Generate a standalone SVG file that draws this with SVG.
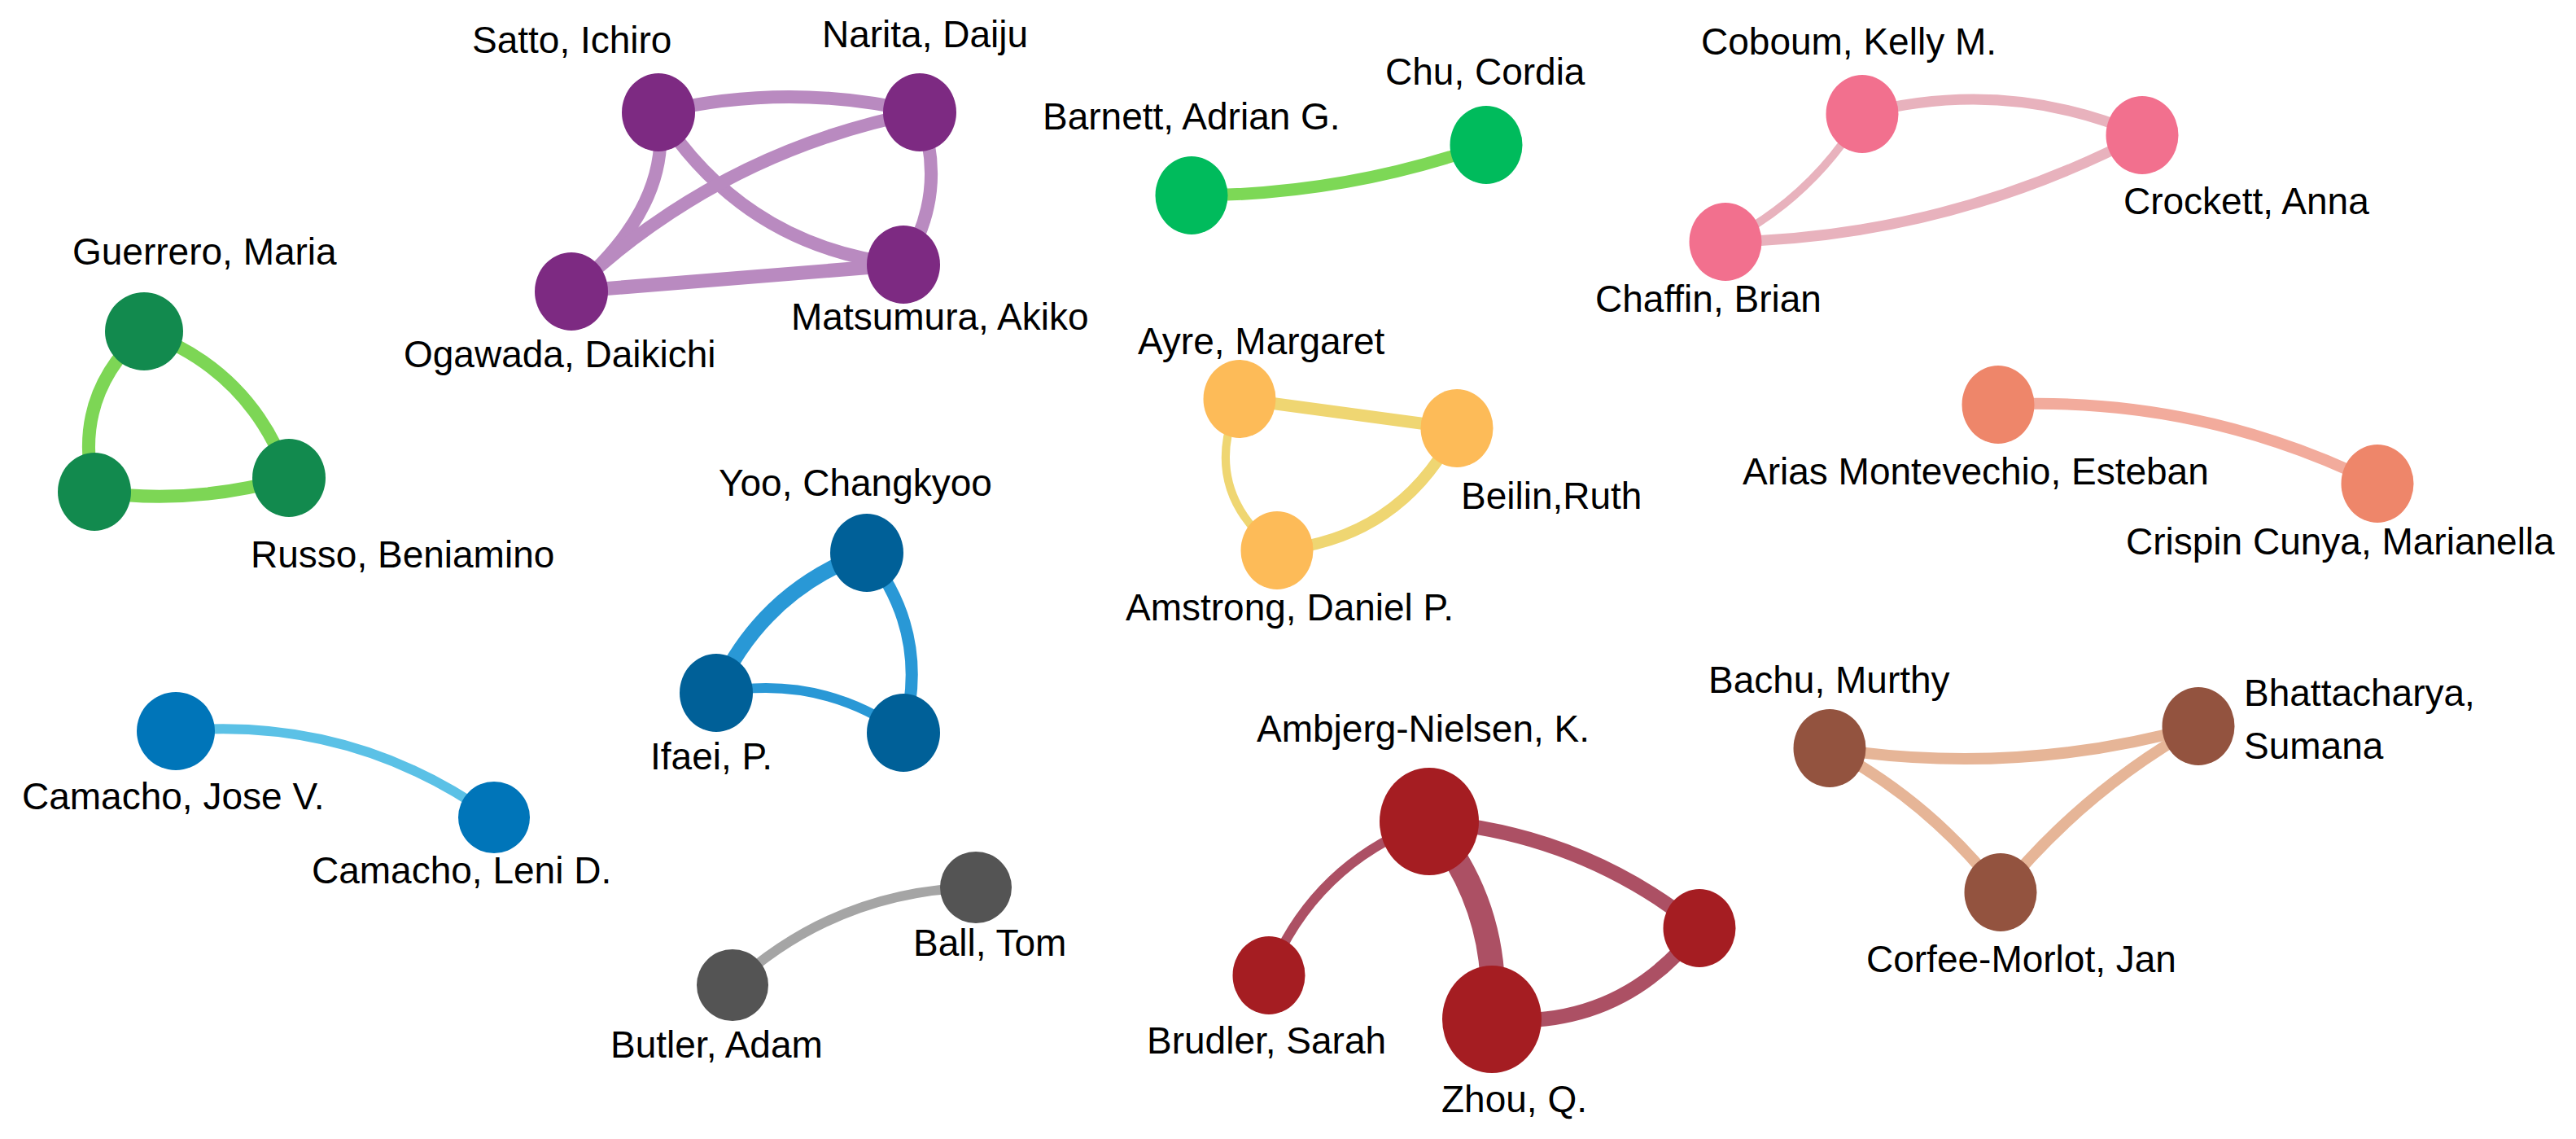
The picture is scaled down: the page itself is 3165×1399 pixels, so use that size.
<svg xmlns="http://www.w3.org/2000/svg" width="3165" height="1399" viewBox="0 0 3165 1399">
<style>
text{font-family:"Liberation Sans",Arial,sans-serif;font-size:46px;fill:#000}
.e{fill:none;stroke-linecap:butt}
.pu{stroke:#b98ac0}.gr{stroke:#7dd655}.gc{stroke:#7dd856}.pk{stroke:#e8b2bd}.or{stroke:#efd672}.sa{stroke:#f2ab9c}.bl{stroke:#2998d6}.cb{stroke:#5bc1e6}.gy{stroke:#a5a5a5}.rd{stroke:#ac5064}.br{stroke:#e6b597}
.npu{fill:#7d2a82}.ngr{fill:#128a4e}.ngc{fill:#00bb5c}.npk{fill:#f2708e}.nor{fill:#fdbb58}.nsa{fill:#ee866a}.nbl{fill:#006098}.ncb{fill:#0075b9}.ngy{fill:#545454}.nrd{fill:#a51d22}.nbr{fill:#93533f}
</style>
<rect width="3165" height="1399" fill="#fff"/>
<g id="connectors">
<path class="e pu" stroke-width="16" d="M809,138 Q970,100 1130,138"/>
<path class="e pu" stroke-width="16" d="M809,138 Q828,252 702,358"/>
<path class="e pu" stroke-width="16" d="M809,138 Q915,304 1110,325"/>
<path class="e pu" stroke-width="16" d="M1130,138 Q884,186 702,358"/>
<path class="e pu" stroke-width="16" d="M1130,138 Q1166,236 1110,325"/>
<path class="e pu" stroke-width="17" d="M702,358 L1110,325"/>
<path class="e gr" stroke-width="16" d="M177,407 Q309,455 355,587"/>
<path class="e gr" stroke-width="16" d="M177,407 Q87,487 116,604"/>
<path class="e gr" stroke-width="16" d="M116,604 Q236,621 355,587"/>
<path class="e gc" stroke-width="15" d="M1464,240 Q1651,240 1826,178"/>
<path class="e pk" stroke-width="13" d="M2288,140 Q2465,94 2632,166"/>
<path class="e pk" stroke-width="10" d="M2288,140 Q2226,243 2120,297"/>
<path class="e pk" stroke-width="13" d="M2120,297 Q2391,292 2632,166"/>
<path class="e or" stroke-width="15" d="M1523,490 L1790,526"/>
<path class="e or" stroke-width="10" d="M1523,490 Q1473,601 1569,676"/>
<path class="e or" stroke-width="14" d="M1790,526 Q1721,662 1569,676"/>
<path class="e sa" stroke-width="14" d="M2455,497 Q2701,485 2921,594"/>
<path class="e bl" stroke-width="19" d="M1065,679 Q936,726 880,851"/>
<path class="e bl" stroke-width="15" d="M1065,679 Q1144,778 1110,900"/>
<path class="e bl" stroke-width="12" d="M880,851 Q1006,827 1110,900"/>
<path class="e cb" stroke-width="12" d="M216,898 Q431,878 607,1004"/>
<path class="e gy" stroke-width="12" d="M900,1210 Q1027,1094 1199,1090"/>
<path class="e rd" stroke-width="12" d="M1756,1009 Q1615,1060 1559,1198"/>
<path class="e rd" stroke-width="30" d="M1756,1009 Q1844,1115 1833,1252"/>
<path class="e rd" stroke-width="18" d="M1756,1009 Q1942,1023 2088,1140"/>
<path class="e rd" stroke-width="18" d="M1833,1252 Q1991,1266 2088,1140"/>
<path class="e br" stroke-width="14" d="M2248,919 Q2477,955 2701,892"/>
<path class="e br" stroke-width="14" d="M2248,919 Q2372,985 2458,1096"/>
<path class="e br" stroke-width="14" d="M2701,892 Q2560,971 2458,1096"/>
</g>
<g id="satto"><ellipse class="npu" cx="809" cy="138" rx="45" ry="48"/><text x="580" y="65">Satto, Ichiro</text></g>
<g id="narita"><ellipse class="npu" cx="1130" cy="138" rx="45" ry="48"/><text x="1010" y="58">Narita, Daiju</text></g>
<g id="ogawada"><ellipse class="npu" cx="702" cy="358" rx="45" ry="48"/><text x="496" y="451">Ogawada, Daikichi</text></g>
<g id="matsumura"><ellipse class="npu" cx="1110" cy="325" rx="45" ry="48"/><text x="972" y="405">Matsumura, Akiko</text></g>
<g id="guerrero"><ellipse class="ngr" cx="177" cy="407" rx="48" ry="48"/><text x="89" y="325">Guerrero, Maria</text></g>
<g id="green3"><ellipse class="ngr" cx="116" cy="604" rx="45" ry="48"/></g>
<g id="russo"><ellipse class="ngr" cx="355" cy="587" rx="45" ry="48"/><text x="308" y="697">Russo, Beniamino</text></g>
<g id="barnett"><ellipse class="ngc" cx="1464" cy="240" rx="44.5" ry="48"/><text x="1281" y="159">Barnett, Adrian G.</text></g>
<g id="chu"><ellipse class="ngc" cx="1826" cy="178" rx="44.5" ry="48"/><text x="1702" y="104">Chu, Cordia</text></g>
<g id="coboum"><ellipse class="npk" cx="2288" cy="140" rx="44.5" ry="48"/><text x="2090" y="67">Coboum, Kelly M.</text></g>
<g id="crockett"><ellipse class="npk" cx="2632" cy="166" rx="44.5" ry="48"/><text x="2609" y="263">Crockett, Anna</text></g>
<g id="chaffin"><ellipse class="npk" cx="2120" cy="297" rx="44.5" ry="48"/><text x="1960" y="383">Chaffin, Brian</text></g>
<g id="ayre"><ellipse class="nor" cx="1523" cy="490" rx="44.5" ry="48"/><text x="1398" y="435">Ayre, Margaret</text></g>
<g id="beilin"><ellipse class="nor" cx="1790" cy="526" rx="44.5" ry="48"/><text x="1795" y="625">Beilin,Ruth</text></g>
<g id="amstrong"><ellipse class="nor" cx="1569" cy="676" rx="44.5" ry="48"/><text x="1383" y="762">Amstrong, Daniel P.</text></g>
<g id="arias"><ellipse class="nsa" cx="2455" cy="497" rx="44.5" ry="48"/><text x="2141" y="595">Arias Montevechio, Esteban</text></g>
<g id="crispin"><ellipse class="nsa" cx="2921" cy="594" rx="44.5" ry="48"/><text x="2612" y="681">Crispin Cunya, Marianella</text></g>
<g id="yoo"><ellipse class="nbl" cx="1065" cy="679" rx="45" ry="48"/><text x="883" y="609">Yoo, Changkyoo</text></g>
<g id="ifaei"><ellipse class="nbl" cx="880" cy="851" rx="45" ry="48"/><text x="799" y="945">Ifaei, P.</text></g>
<g id="blue3"><ellipse class="nbl" cx="1110" cy="900" rx="45" ry="48"/></g>
<g id="camacho-jose"><ellipse class="ncb" cx="216" cy="898" rx="48" ry="48"/><text x="27" y="994">Camacho, Jose V.</text></g>
<g id="camacho-leni"><ellipse class="ncb" cx="607" cy="1004" rx="44" ry="44"/><text x="383" y="1085">Camacho, Leni D.</text></g>
<g id="ball"><ellipse class="ngy" cx="1199" cy="1090" rx="44" ry="44"/><text x="1122" y="1174">Ball, Tom</text></g>
<g id="butler"><ellipse class="ngy" cx="900" cy="1210" rx="44" ry="44"/><text x="750" y="1299">Butler, Adam</text></g>
<g id="ambjerg"><ellipse class="nrd" cx="1756" cy="1009" rx="61" ry="66"/><text x="1544" y="911">Ambjerg-Nielsen, K.</text></g>
<g id="brudler"><ellipse class="nrd" cx="1559" cy="1198" rx="44.5" ry="48"/><text x="1409" y="1294">Brudler, Sarah</text></g>
<g id="zhou"><ellipse class="nrd" cx="1833" cy="1252" rx="61" ry="66"/><text x="1771" y="1366">Zhou, Q.</text></g>
<g id="red4"><ellipse class="nrd" cx="2088" cy="1140" rx="44.5" ry="48"/></g>
<g id="bachu"><ellipse class="nbr" cx="2248" cy="919" rx="44.5" ry="48"/><text x="2099" y="851">Bachu, Murthy</text></g>
<g id="bhattacharya"><ellipse class="nbr" cx="2701" cy="892" rx="44.5" ry="48"/><text x="2757" y="867">Bhattacharya,</text><text x="2757" y="932">Sumana</text></g>
<g id="corfee"><ellipse class="nbr" cx="2458" cy="1096" rx="44.5" ry="48"/><text x="2293" y="1194">Corfee-Morlot, Jan</text></g>
</svg>
